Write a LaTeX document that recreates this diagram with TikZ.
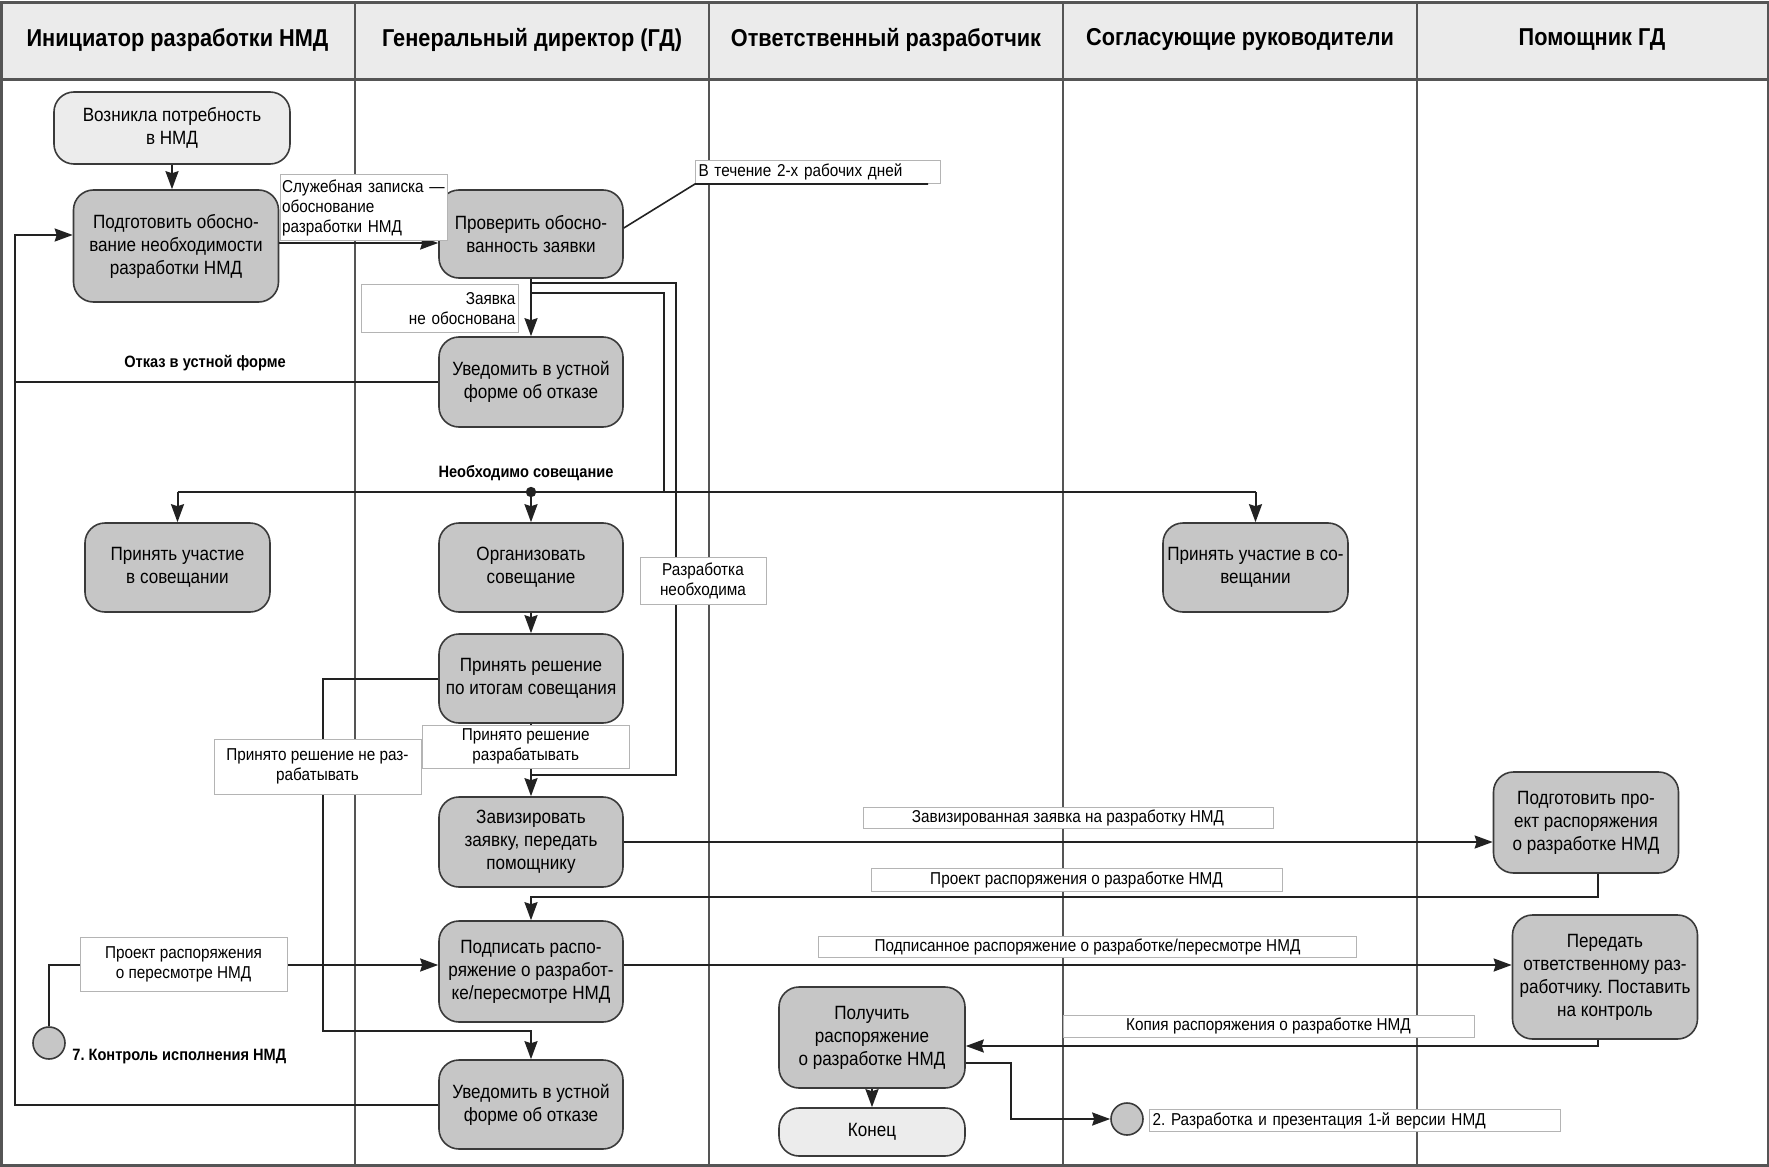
\documentclass[tikz,border=0pt]{standalone}
\usepackage{fontspec}
\setmainfont{Liberation Sans}[FakeStretch=0.89]
\usetikzlibrary{arrows.meta}
\definecolor{dk}{HTML}{C6C6C6}
\definecolor{lt}{HTML}{ECECEC}
\definecolor{hd}{HTML}{EBEBEB}
\definecolor{lnc}{HTML}{222222}
\definecolor{bd}{HTML}{3A3A3A}
\definecolor{lbd}{HTML}{B4B4B4}
\definecolor{frm}{HTML}{555555}
\newcommand\nodefnt{\frenchspacing\fontsize{9.6}{11.5}\selectfont}
\newcommand\lblfnt{\frenchspacing\fontsize{8.6}{10}\selectfont}
\newcommand\bnfnt{\frenchspacing\fontsize{8.2}{10}\selectfont\bfseries}
\newcommand\hdrfnt{\fontsize{12.2}{14}\selectfont\bfseries}
\tikzset{
 act/.style={draw=bd, fill=dk, line width=0.8pt, rounded corners=10pt, align=center, font=\nodefnt, inner sep=1pt},
 term/.style={act, fill=lt},
 sz/.style 2 args={minimum width=#1*0.5pt, minimum height=#2*0.5pt},
 lbl/.style={draw=lbd, fill=white, line width=0.5pt, font=\lblfnt, inner xsep=1.5pt, inner ysep=0pt, align=center},
 arr/.style={draw=lnc, line width=1pt, -{Stealth[length=9pt,width=6.5pt,inset=1pt]}},
 wire/.style={draw=lnc, line width=1pt},
 bnote/.style={font=\bnfnt, inner sep=1pt},
 circ/.style={circle, draw=bd, fill=dk, line width=0.8pt, minimum size=16pt, inner sep=0pt},
 hdr/.style={font=\hdrfnt}
}
\begin{document}
\begin{tikzpicture}[x=0.5pt,y=-0.5pt]
\useasboundingbox (0,0) rectangle (1769,1167);
% background
\fill[hd] (1,2) rectangle (1768,79);
\foreach \x in {355,709,1063,1417} \draw[line width=1pt, draw=frm] (\x,2) -- (\x,1165);
\draw[line width=1.5pt, draw=frm] (1,79) -- (1768,79);
\draw[line width=1.5pt, draw=frm] (1,2) rectangle (1768,1165);
% headers
\node[hdr] (h1) at (177.5,40) {Инициатор разработки НМД};
\node[hdr] (h2) at (532,40) {Генеральный директор (ГД)};
\node[hdr] (h3) at (886,40) {Ответственный разработчик};
\node[hdr] (h4) at (1240,40) {Согласующие руководители};
\node[hdr] (h5) at (1592,40) {Помощник ГД};
% activities
\node[term, sz={236}{72}] (n1) at (172,128) {Возникла потребность\\в НМД};
\node[act, sz={205}{112}] (n2) at (176,246) {Подготовить обосно-\\вание необходимости\\разработки НМД};
\node[act, sz={184}{88}] (n3) at (531,234) {Проверить обосно-\\ванность заявки};
\node[act, sz={184}{90}] (n4) at (531,382) {Уведомить в устной\\форме об отказе};
\node[act, sz={185}{89}] (n5) at (177.5,567.5) {Принять участие\\в совещании};
\node[act, sz={184}{89}] (n6) at (531,567.5) {Организовать\\совещание};
\node[act, sz={185}{89}] (n7) at (1255.5,567.5) {Принять участие в со-\\вещании};
\node[act, sz={184}{89}] (n8) at (531,678.5) {Принять решение\\по итогам совещания};
\node[act, sz={184}{90}] (n9) at (531,842) {Завизировать\\заявку, передать\\помощнику};
\node[act, sz={184}{101}] (n10) at (531,971.5) {Подписать распо-\\ряжение о разработ-\\ке/пересмотре НМД};
\node[act, sz={184}{89}] (n11) at (531,1104.5) {Уведомить в устной\\форме об отказе};
\node[act, sz={186}{101}] (n12) at (872,1037.5) {Получить\\распоряжение\\о разработке НМД};
\node[term, sz={186}{48}] (n13) at (872,1132) {Конец};
\node[act, sz={185}{101}] (n14) at (1586,822.5) {Подготовить про-\\ект распоряжения\\о разработке НМД};
\node[act, sz={185}{124}] (n15) at (1605,977) {Передать\\ответственному раз-\\работчику. Поставить\\на контроль};
\node[circ] (c2) at (1127,1119) {};
\node[circ] (c7) at (49,1043) {};
% coordinates
\coordinate (a23) at (278,243);
\coordinate (lv) at (15,235);
\coordinate (fk) at (531,492);
\coordinate (fkL) at (177.5,492);
\coordinate (fkR) at (1255.5,492);
\coordinate (r1) at (676,283);
\coordinate (r2) at (664,293);
\coordinate (r3) at (664,492);
\coordinate (j9) at (531,775);
\coordinate (dn1) at (323,1031);
\coordinate (k2) at (531,897);
\coordinate (e10) at ([yshift=3.25pt]n10.east);
\coordinate (w10) at ([yshift=3.25pt]n10.west);
\coordinate (p1) at (1011,1119);
% connectors
\draw[arr] (n1.south) -- (n1.south |- n2.north);
\draw[arr] (n2.east |- a23) -- (n3.west |- a23);
\draw[arr] (n3) -- (n4);
\draw[wire] (n3.south) |- (r1) |- (j9);
\draw[wire] (n3.south) |- (r2) -- (r3);
\draw[wire] (fkL) -- (fkR);
\fill[lnc] (fk) circle (2.6pt);
\draw[arr] (fkL) -- (n5);
\draw[arr] (fk) -- (n6);
\draw[arr] (fkR) -- (n7);
\draw[arr] (n11.west) -| (lv) -- (lv -| n2.west);
\draw[wire] (n4.west) -- (n4.west -| lv);
\draw[arr] (n6) -- (n8);
\draw[arr] (n8) -- (n9);
\draw[arr] (n8.west) -| (dn1) -| (n11.north);
\draw[arr] (n9.east) -- (n9.east -| n14.west);
\draw[arr] ([xshift=6pt]n14.south) |- (k2) -- (n10.north);
\draw[arr] (c7.north) |- (w10);
\draw[arr] (e10) -- (e10 -| n15.west);
\draw[arr] ([xshift=-3.5pt]n15.south) |- ([yshift=-4.25pt]n12.east);
\draw[arr] (n12) -- (n13);
\draw[arr] ([yshift=-12.75pt]n12.east) -| (p1) -- (c2);
% labels
\node[lbl, sz={167}{66}, text width=82pt, inner xsep=0.75pt, align=left, anchor=north west] (lb1) at (280,174) {Служебная записка~—\\обоснование\\разработки НМД};
\node[lbl, sz={245}{23}, text width=119.5pt, align=left, anchor=north west] (lb2) at (695,160) {В течение 2-х рабочих дней};
\node[lbl, sz={157.5}{48}, text width=75.75pt, align=right, anchor=north west] (lb3) at (360.5,284) {Заявка\\не обоснована};
\node[lbl, sz={126}{47}] (lb4) at (703,580.5) {Разработка\\необходима};
\node[lbl, sz={207}{55}] (lb5) at (317.5,766.5) {Принято решение не раз-\\рабатывать};
\node[lbl, sz={206.5}{43}] (lb6) at (525.75,746.5) {Принято решение\\разрабатывать};
\node[lbl, sz={410}{21}] (lb7) at (1068,817.5) {Завизированная заявка на разработку НМД};
\node[lbl, sz={411}{23}] (lb8) at (1076.5,879.5) {Проект распоряжения о разработке НМД};
\node[lbl, sz={538}{21}] (lb9) at (1087.5,946.5) {Подписанное распоряжение о разработке/пересмотре НМД};
\node[lbl, sz={411}{22}] (lb10) at (1268.5,1026) {Копия распоряжения о разработке НМД};
\node[lbl, sz={411}{22}, text width=202.5pt, align=left, anchor=north west] (lb11) at (1149,1109) {2. Разработка и презентация 1-й версии НМД};
\node[lbl, sz={207}{54}] (lb12) at (183.5,964) {Проект распоряжения\\о пересмотре НМД};
\draw[wire, line width=0.8pt] ([yshift=3pt]n3.east) -- (lb2.south west) -- ++(233,0);
% bold notes
\node[bnote] (tOtk) at (205,363) {Отказ в устной форме};
\node[bnote] (tNeo) at (526,473) {Необходимо совещание};
\node[bnote, anchor=west] (t7) at (70,1057) {7. Контроль исполнения НМД};
\end{tikzpicture}
\end{document}
